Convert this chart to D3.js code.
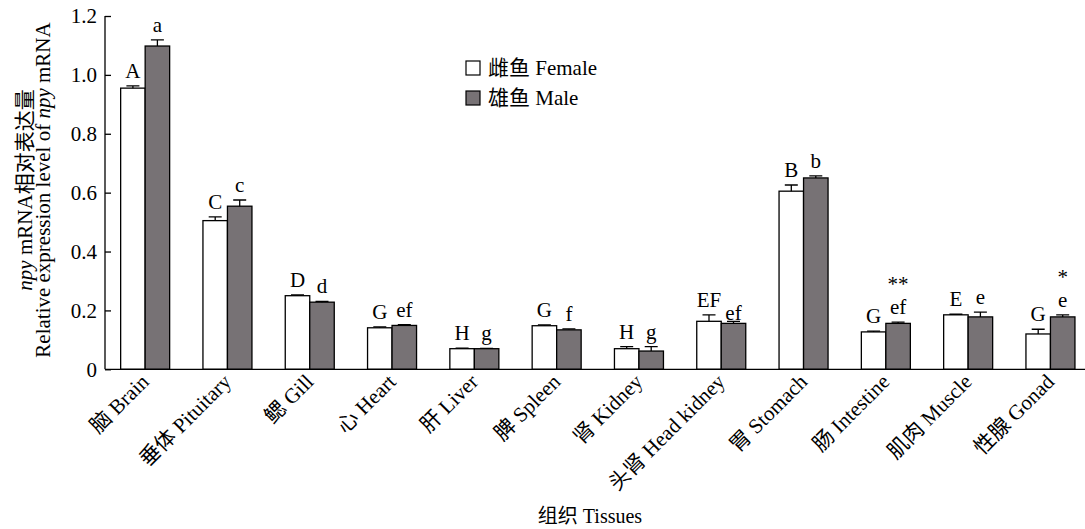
<!DOCTYPE html>
<meta charset="utf-8">
<style>
  body { margin: 0; background: #fff; }
  svg { font-family: "Liberation Serif", "Times New Roman", "Noto Sans CJK SC", serif; }
  .bar { stroke: #000; stroke-width: 1.3px; }
  .err { stroke: #000; stroke-width: 1.3px; fill: none; }
</style>
<svg id="chart" width="1085" height="529"></svg>
<script src="https://d3js.org/d3.v7.min.js"></script>
<script>
var tissues = ["脑 Brain", "垂体 Pituitary", "鳃 Gill", "心 Heart", "肝 Liver", "脾 Spleen",
  "肾 Kidney", "头肾 Head kidney", "胃 Stomach", "肠 Intestine", "肌肉 Muscle", "性腺 Gonad"];
var female = [0.955, 0.505, 0.250, 0.141, 0.070, 0.148, 0.070, 0.163, 0.605, 0.127, 0.185, 0.120];
var femaleErr = [0.008, 0.013, 0.003, 0.003, 0.002, 0.003, 0.007, 0.022, 0.021, 0.003, 0.002, 0.016];
var male = [1.098, 0.554, 0.228, 0.149, 0.070, 0.134, 0.062, 0.156, 0.650, 0.156, 0.178, 0.178];
var maleErr = [0.021, 0.021, 0.003, 0.003, 0.001, 0.003, 0.015, 0.007, 0.007, 0.004, 0.016, 0.007];
var femaleLetters = ["A", "C", "D", "G", "H", "G", "H", "EF", "B", "G", "E", "G"];
var maleLetters = ["a", "c", "d", "ef", "g", "f", "g", "ef", "b", "ef", "e", "e"];
var maleStars = ["", "", "", "", "", "", "", "", "", "**", "", "*"];
var yTicks = [0, 0.2, 0.4, 0.6, 0.8, 1.0, 1.2];

var svg = d3.select("#chart");
var x0 = 105, y0 = 369.3;

var x = d3.scaleBand().domain(tissues).range([104, 104 + 12 * 82.3]);
var sx = d3.scaleBand().domain(["F", "M"]).range([-24.5, 24.5]);
var y = d3.scaleLinear().domain([0, 1.2]).range([y0, 16]);

var rows = tissues.map(function(t, i) {
  return [
    {t: t, s: "F", v: female[i], e: femaleErr[i], l: femaleLetters[i], st: ""},
    {t: t, s: "M", v: male[i], e: maleErr[i], l: maleLetters[i], st: maleStars[i]}
  ];
}).flat();

function cx(d) { return x(d.t) + x.bandwidth() / 2 + sx(d.s) + sx.bandwidth() / 2; }

// bars
svg.append("g").selectAll("rect").data(rows).join("rect")
  .attr("class", "bar")
  .attr("x", function(d) { return x(d.t) + x.bandwidth() / 2 + sx(d.s); })
  .attr("width", sx.bandwidth())
  .attr("y", function(d) { return y(d.v); })
  .attr("height", function(d) { return y0 - y(d.v); })
  .attr("fill", function(d) { return d.s == "F" ? "#fff" : "#777275"; });

// error bars
svg.append("g").selectAll("path").data(rows).join("path")
  .attr("class", "err")
  .attr("d", function(d) {
    var c = cx(d), t = y(d.v + d.e);
    return "M" + c + "," + y(d.v) + "V" + t + "M" + (c - 6.5) + "," + t + "H" + (c + 6.5);
  });

// significance letters
svg.append("g").selectAll("text").data(rows).join("text")
  .attr("x", cx)
  .attr("y", function(d) { return y(d.v + d.e) - (d.l == "ef" && d.t == "头肾 Head kidney" ? 1 : 8); })
  .attr("text-anchor", "middle")
  .attr("font-size", "21px")
  .text(function(d) { return d.l; });

svg.append("g").selectAll("text").data(rows.filter(function(d) { return d.st; })).join("text")
  .attr("x", cx)
  .attr("y", function(d) { return y(d.v + d.e) - 31; })
  .attr("text-anchor", "middle")
  .attr("font-size", "21px")
  .text(function(d) { return d.st; });

// axes
var yAxis = d3.axisLeft(y).tickValues(yTicks).tickSize(-6).tickPadding(8)
  .tickFormat(function(d) { return d == 0 ? "0" : d3.format(".1f")(d); });
var ga = svg.append("g").attr("transform", "translate(" + x0 + ",0)").call(yAxis);
ga.attr("font-family", null);
ga.select(".domain").attr("d", "M0," + y(1.2) + "V" + y0).attr("stroke-width", 1.3);
ga.selectAll(".tick line").attr("stroke-width", 1.3);
ga.selectAll(".tick text").attr("font-size", "21px").attr("fill", "#000");

svg.append("line").attr("x1", x0).attr("x2", 1085).attr("y1", y0).attr("y2", y0)
  .attr("stroke", "#000").attr("stroke-width", 1.3);

// x labels
svg.append("g").selectAll("text").data(tissues).join("text")
  .attr("transform", function(d) {
    return "translate(" + (x(d) + x.bandwidth() / 2 + 5) + "," + 383 + ") rotate(-45)";
  })
  .attr("text-anchor", "end")
  .attr("font-size", "21px")
  .text(function(d) { return d; });

// axis titles
svg.append("text").attr("x", 590).attr("y", 523).attr("text-anchor", "middle")
  .attr("font-size", "20px").text("组织 Tissues");

var yt1 = svg.append("text").attr("transform", "translate(32,190) rotate(-90)")
  .attr("text-anchor", "middle").attr("font-size", "21px");
yt1.append("tspan").attr("font-style", "italic").text("npy");
yt1.append("tspan").text(" mRNA相对表达量");
var yt2 = svg.append("text").attr("transform", "translate(50,190) rotate(-90)")
  .attr("text-anchor", "middle").attr("font-size", "21px");
yt2.append("tspan").text("Relative expression level of ");
yt2.append("tspan").attr("font-style", "italic").text("npy");
yt2.append("tspan").text(" mRNA");

// legend
var legend = [["雌鱼 Female", "#fff"], ["雄鱼 Male", "#777275"]];
var lg = svg.append("g").selectAll("g").data(legend).join("g")
  .attr("transform", function(d, i) { return "translate(466," + (61 + i * 30) + ")"; });
lg.append("rect").attr("width", 14).attr("height", 14).attr("fill", function(d) { return d[1]; })
  .attr("stroke", "#000").attr("stroke-width", 1.2);
lg.append("text").attr("x", 22).attr("y", 14).attr("font-size", "21px").text(function(d) { return d[0]; });
</script>
